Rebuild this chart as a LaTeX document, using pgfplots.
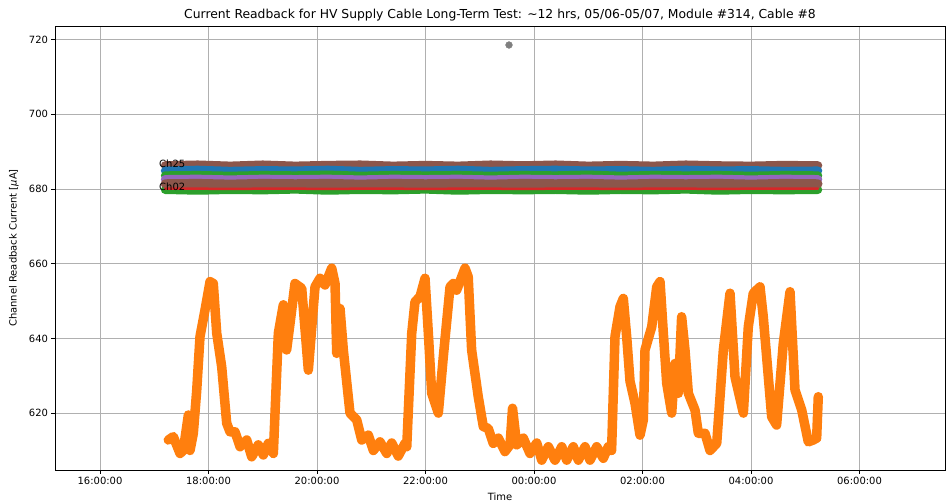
\documentclass[border=0pt]{standalone}
\usepackage{pgfplots}
\pgfplotsset{compat=1.18}
\usepackage{fontspec}
\setmainfont{DejaVu Sans}
\definecolor{tabblue}{HTML}{1F77B4}
\definecolor{taborange}{HTML}{FF7F0E}
\definecolor{tabgreen}{HTML}{2CA02C}
\definecolor{tabred}{HTML}{D62728}
\definecolor{tabpurple}{HTML}{9467BD}
\definecolor{tabbrown}{HTML}{8C564B}
\definecolor{tabgray}{HTML}{7F7F7F}
\definecolor{gridgray}{HTML}{B0B0B0}
\begin{document}
\begin{tikzpicture}
\useasboundingbox (-55bp,-32bp) rectangle (891bp,470bp);
\begin{axis}[
  name=ax,
  at={(0,0)}, anchor=south west,
  scale only axis, width=890bp, height=444bp,
  xmin=15.170, xmax=31.576, ymin=604.77, ymax=723.64,
  xtick={16,18,20,22,24,26,28,30},
  xticklabels={16:00:00,18:00:00,20:00:00,22:00:00,00:00:00,02:00:00,04:00:00,06:00:00},
  ytick={620,640,660,680,700,720},
  /pgf/number format/assume math mode=true,
  tick label style={font=\fontsize{10}{12}\selectfont, color=black},
  tick align=outside, tick pos=left,
  major tick length=3.5bp,
  every tick/.style={black, line width=0.8bp},
  axis line style={line width=0.8bp},
  grid=major,
  major grid style={gridgray, line width=0.8bp},
  xlabel={Time},
  xlabel style={font=\fontsize{10}{12}\selectfont, at={(axis description cs:0.5,-0.0608)}, anchor=center},
  ylabel={Channel Readback Current [{\itshape μ}A]},
  ylabel style={font=\fontsize{10}{12}\selectfont, at={(axis description cs:-0.0461,0.5)}, anchor=center},
  clip=true,
]
% band of channels
\addplot[tabbrown, line width=8.5bp, line cap=round, line join=round] coordinates {
(17.20,686.3)(17.8,686.5)(18.4,686.2)(19.0,686.5)(19.6,686.2)(20.2,686.4)(20.8,686.5)(21.4,686.2)(22.0,686.4)(22.6,686.2)(23.2,686.5)(23.8,686.3)(24.4,686.5)(25.0,686.2)(25.6,686.4)(26.2,686.2)(26.8,686.5)(27.4,686.3)(28.0,686.2)(28.6,686.4)(29.235,686.3)};
\addplot[tabblue, line width=8.5bp, line cap=round, line join=round] coordinates {
(17.20,684.9)(17.8,685.1)(18.4,684.8)(19.0,685.0)(19.6,684.9)(20.2,685.1)(20.8,684.8)(21.4,685.0)(22.0,684.9)(22.6,685.1)(23.2,684.8)(23.8,685.0)(24.4,685.1)(25.0,684.9)(25.6,685.0)(26.2,684.8)(26.8,685.1)(27.4,684.9)(28.0,685.0)(28.6,684.8)(29.235,684.9)};
\addplot[tabgreen, line width=8.5bp, line cap=round, line join=round] coordinates {
(17.20,683.6)(17.8,683.7)(18.4,683.5)(19.0,683.7)(19.6,683.6)(20.2,683.8)(20.8,683.5)(21.4,683.7)(22.0,683.6)(22.6,683.7)(23.2,683.5)(23.8,683.7)(24.4,683.6)(25.0,683.8)(25.6,683.5)(26.2,683.7)(26.8,683.6)(27.4,683.7)(28.0,683.5)(28.6,683.7)(29.235,683.6)};
\addplot[tabpurple, line width=8.5bp, line cap=round, line join=round] coordinates {
(17.20,682.6)(17.8,682.7)(18.4,682.5)(19.0,682.7)(19.6,682.6)(20.2,682.7)(20.8,682.5)(21.4,682.7)(22.0,682.6)(22.6,682.7)(23.2,682.5)(23.8,682.7)(24.4,682.6)(25.0,682.7)(25.6,682.5)(26.2,682.7)(26.8,682.6)(27.4,682.7)(28.0,682.5)(28.6,682.7)(29.235,682.6)};
\addplot[tabgreen, line width=8.5bp, line cap=round, line join=round] coordinates {
(17.20,679.8)(17.8,679.6)(18.4,679.8)(19.0,679.7)(19.6,679.9)(20.2,679.6)(20.8,679.8)(21.4,679.7)(22.0,679.9)(22.6,679.6)(23.2,679.8)(23.8,679.7)(24.4,679.8)(25.0,679.6)(25.6,679.8)(26.2,679.7)(26.8,679.9)(27.4,679.6)(28.0,679.8)(28.6,679.7)(29.235,679.8)};
\addplot[tabbrown, line width=9bp, line cap=round, line join=round] coordinates {
(17.20,681.4)(17.8,681.5)(18.4,681.3)(19.0,681.5)(19.6,681.4)(20.2,681.5)(20.8,681.3)(21.4,681.5)(22.0,681.4)(22.6,681.5)(23.2,681.3)(23.8,681.5)(24.4,681.4)(25.0,681.5)(25.6,681.3)(26.2,681.5)(26.8,681.4)(27.4,681.5)(28.0,681.3)(28.6,681.5)(29.235,681.4)};
\addplot[tabred, line width=2.5bp, line cap=round, line join=round] coordinates {
(17.20,680.1)(17.8,680.1)(18.4,680.0)(19.0,680.1)(19.6,680.1)(20.2,680.0)(20.8,680.1)(21.4,680.1)(22.0,680.0)(22.6,680.1)(23.2,680.1)(23.8,680.0)(24.4,680.1)(25.0,680.1)(25.6,680.0)(26.2,680.1)(26.8,680.1)(27.4,680.0)(28.0,680.1)(28.6,680.1)(29.235,680.1)};
% outlier
\addplot[only marks, mark=*, mark size=3.4bp, tabgray, mark options={draw=tabgray, fill=tabgray}] coordinates {(23.539,718.55)};
% orange channel
\addplot[taborange, line width=9.5bp, line cap=round, line join=round] coordinates {
(17.259,612.8)(17.351,613.7)(17.475,609.2)(17.535,610)(17.628,619.5)(17.659,610)(17.720,614.6)(17.782,626)(17.843,640.5)(17.935,647.6)(18.028,655.2)(18.088,654.7)(18.151,641.4)(18.243,632.4)(18.335,617.3)(18.396,615)(18.488,615)(18.581,611)(18.704,612.8)(18.796,608.3)(18.918,611.5)(19.010,608.8)(19.102,611.9)(19.195,609.2)(19.287,641.4)(19.379,649)(19.440,636.9)(19.502,644)(19.594,654.7)(19.718,653.4)(19.840,631.5)(19.963,653.8)(20.055,656.1)(20.147,654.3)(20.271,658.8)(20.332,654.7)(20.363,636)(20.424,648)(20.485,636.9)(20.608,620)(20.732,618.2)(20.824,612.8)(20.946,614.1)(21.038,610)(21.161,612.3)(21.285,609.2)(21.377,612)(21.497,608.5)(21.622,611.9)(21.654,611)(21.746,641.4)(21.806,649.8)(21.899,651.2)(21.991,656.1)(22.052,641.4)(22.114,625.3)(22.236,620)(22.328,635.1)(22.452,653.8)(22.511,654.7)(22.573,652.9)(22.728,658.8)(22.787,656.5)(22.850,636.9)(22.972,624.4)(23.065,616.4)(23.157,615.9)(23.249,611.9)(23.342,613.3)(23.465,609.7)(23.558,611.5)(23.604,621.3)(23.681,611.5)(23.803,613.3)(23.926,609.2)(24.050,612)(24.142,607.4)(24.264,611)(24.387,607.4)(24.511,611)(24.603,607.4)(24.724,611)(24.817,607.4)(24.940,611)(25.032,607.4)(25.156,611)(25.277,607.9)(25.369,611)(25.430,610)(25.493,640.5)(25.585,648.5)(25.646,650.7)(25.708,640.5)(25.770,628.5)(25.862,622.6)(25.954,614.1)(26.015,618.2)(26.046,636.9)(26.170,643.1)(26.262,653.8)(26.323,655.2)(26.384,641.4)(26.446,628)(26.538,620)(26.599,633.3)(26.660,625.3)(26.721,645.8)(26.783,636.9)(26.845,625.3)(26.968,620.8)(27.029,614.6)(27.152,614.6)(27.244,610)(27.368,611.9)(27.490,636.9)(27.613,652.1)(27.705,629.7)(27.859,620)(27.950,643.1)(28.042,652.1)(28.166,653.8)(28.226,645.8)(28.381,619)(28.472,616.8)(28.595,638.7)(28.719,652.5)(28.811,626.2)(28.935,620.8)(29.056,612.3)(29.147,612.8)(29.210,613.3)(29.240,624.4)};
\node[anchor=west, inner sep=0pt, font=\fontsize{10}{12}\selectfont] at (axis cs:17.088,686.7) {Ch25};
\node[anchor=west, inner sep=0pt, font=\fontsize{10}{12}\selectfont] at (axis cs:17.088,680.5) {Ch02};
\end{axis}
\node[font=\fontsize{12.4}{14}\selectfont, anchor=center, inner sep=0pt] at ([yshift=11bp]ax.north) {Current Readback for HV Supply Cable Long-Term Test: \textasciitilde12 hrs, 05/06-05/07, Module \#314, Cable \#8};
\end{tikzpicture}
\end{document}
